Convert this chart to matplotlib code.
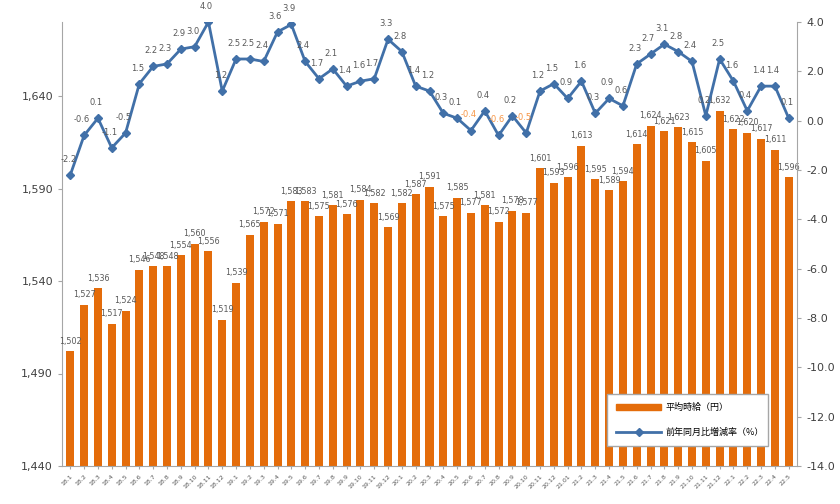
import matplotlib
matplotlib.use("Agg")
import matplotlib.pyplot as plt
from matplotlib.lines import Line2D
from matplotlib.patches import Patch

plt.rcParams['font.family'] = ['DejaVu Sans', 'Noto Sans CJK JP']

months = ["18.1","18.2","18.3","18.4","18.5","18.6","18.7","18.8","18.9","18.10","18.11","18.12",
          "19.1","19.2","19.3","19.4","19.5","19.6","19.7","19.8","19.9","19.10","19.11","19.12",
          "20.1","20.2","20.3","20.4","20.5","20.6","20.7","20.8","20.9","20.10","20.11","20.12",
          "21.01","21.2","21.3","21.4","21.5","21.6","21.7","21.8","21.9","21.10","21.11","21.12",
          "22.1","22.2","22.3","22.4","22.5"]
wage = [1502,1527,1536,1517,1524,1546,1548,1548,1554,1560,1556,1519,
        1539,1565,1572,1571,1583,1583,1575,1581,1576,1584,1582,1569,
        1582,1587,1591,1575,1585,1577,1581,1572,1578,1577,1601,1593,
        1596,1613,1595,1589,1594,1614,1624,1621,1623,1615,1605,1632,
        1622,1620,1617,1611,1596]
yoy = [-2.2,-0.6,0.1,-1.1,-0.5,1.5,2.2,2.3,2.9,3.0,4.0,1.2,
       2.5,2.5,2.4,3.6,3.9,2.4,1.7,2.1,1.4,1.6,1.7,3.3,
       2.8,1.4,1.2,0.3,0.1,-0.4,0.4,-0.6,0.2,-0.5,1.2,1.5,
       0.9,1.6,0.3,0.9,0.6,2.3,2.7,3.1,2.8,2.4,0.2,2.5,
       1.6,0.4,1.4,1.4,0.1]
orange_label_idx = [29, 31, 33]

BAR = '#E46C0A'
LINE = '#4170A8'
TXT = '#595959'
AX = '#A6A6A6'

fig = plt.figure(figsize=(8.4, 5.04), dpi=100)
ax = fig.add_axes([62/840, 38/504, (797-62)/840, (466-22)/504])
ax2 = ax.twinx()

x = list(range(len(months)))
ax.bar(x, wage, width=0.58, color=BAR, zorder=2)
ax.set_ylim(1440, 1680)
ax.set_yticks([1440, 1490, 1540, 1590, 1640])
ax.set_yticklabels([f"{v:,}" for v in [1440, 1490, 1540, 1590, 1640]])
ax.set_xlim(-0.6, len(months) - 0.4)
ax.set_xticks(x)
ax.set_xticklabels(months, rotation=45, ha='right', rotation_mode='anchor', fontsize=4.5, color=TXT)

for xi, v in zip(x, wage):
    ax.text(xi, v + 3, f"{v:,}", ha='center', va='bottom', fontsize=5.8, color=TXT, zorder=3)

ax2.plot(x, yoy, color=LINE, lw=2, marker='D', ms=4, zorder=4)
ax2.set_ylim(-14, 4)
ax2.set_yticks(range(-14, 5, 2))
ax2.set_yticklabels([f"{v:.1f}" for v in range(-14, 5, 2)])
for i, (xi, v) in enumerate(zip(x, yoy)):
    c = '#F79646' if i in orange_label_idx else TXT
    ax2.text(xi - 0.15, v + 0.45, f"{v:.1f}", ha='center', va='bottom', fontsize=6, color=c, zorder=5)

for a in (ax, ax2):
    a.spines['top'].set_visible(False)
    for s in ('left', 'right', 'bottom'):
        a.spines[s].set_color(AX)
    a.tick_params(axis='y', labelsize=8, colors='#404040', length=3, color=AX)
    a.tick_params(axis='x', length=2, color=AX)

ax.spines['right'].set_visible(False)
ax2.spines['left'].set_visible(False)
ax2.spines['bottom'].set_visible(False)

handles = [Patch(color=BAR, label='平均時給（円）'),
           Line2D([0], [0], color=LINE, lw=2, marker='D', ms=4, label='前年同月比増減率（%）')]
leg = ax2.legend(handles=handles, loc='lower left',
                 bbox_to_anchor=((607-62)/735, (466-446)/444, 161/735, 59/444),
                 mode='expand', prop={'family': ['Noto Sans CJK JP'], 'size': 6.5},
                 frameon=True, fancybox=False, edgecolor=AX, framealpha=1,
                 borderaxespad=0, handlelength=5.0, handletextpad=0.5,
                 labelspacing=1.7, borderpad=1.0)
leg.get_frame().set_linewidth(1)
leg.set_zorder(10)

fig.savefig('out.png', dpi=100)
